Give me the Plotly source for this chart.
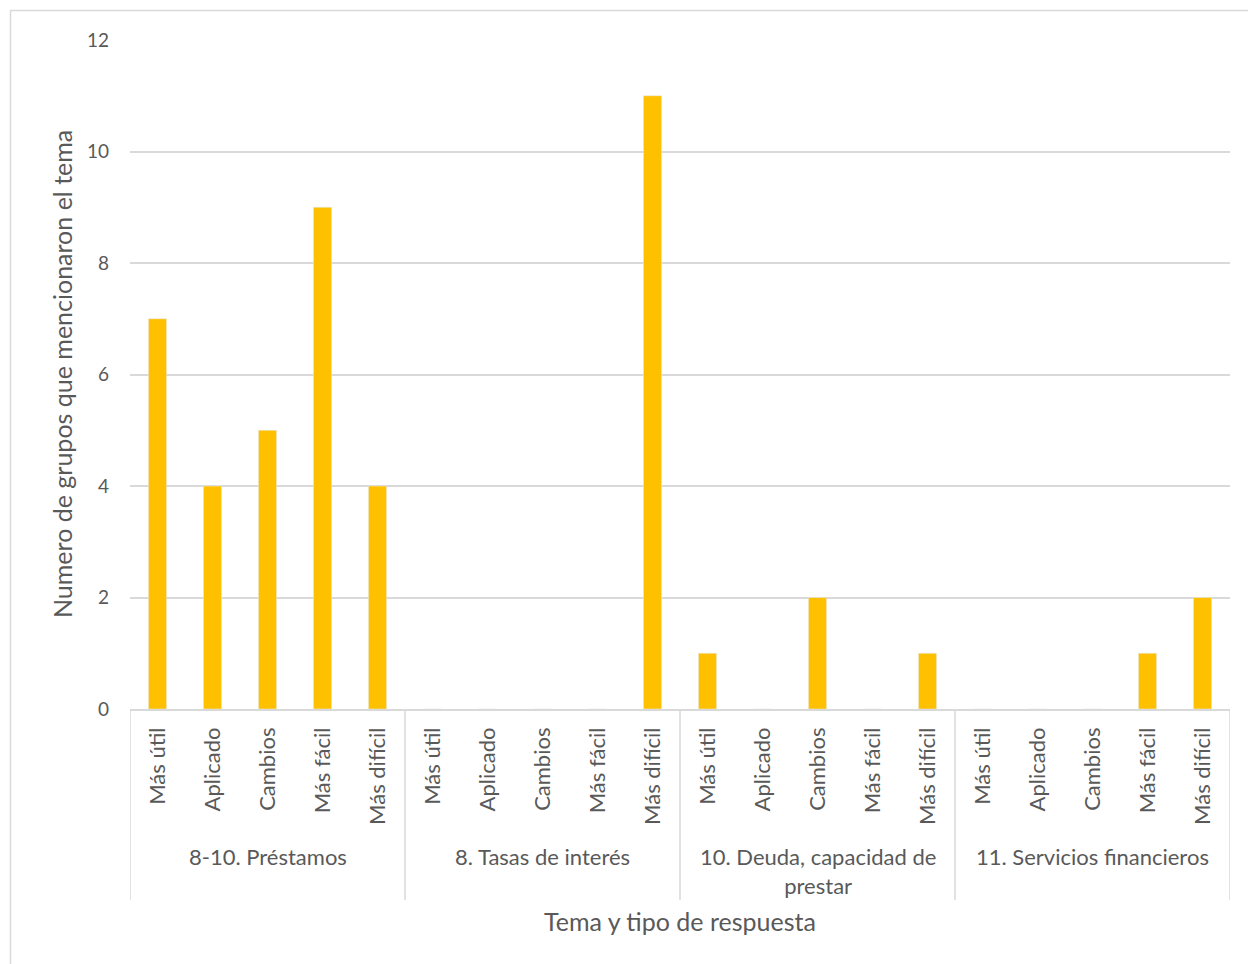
import plotly.graph_objects as go

groups = ["8-10. Préstamos", "8. Tasas de interés", "10. Deuda, capacidad de<br>prestar", "11. Servicios financieros"]
subcats = ["Más útil", "Aplicado", "Cambios", "Más fácil", "Más difícil"]
prestamos = [7, 4, 5, 9, 4]
tasas = [0, 0, 0, 0, 11]
deuda = [1, 0, 2, 0, 1]
servicios = [0, 0, 0, 1, 2]
series = [prestamos, tasas, deuda, servicios]
y_ticks = [0, 2, 4, 6, 8, 10, 12]

W, H = 1248, 964
L, R, T, B = 130, 18, 40, 255
pw, ph = W - L - R, H - T - B

xs, ys, labels = [], [], []
for gi, vals in enumerate(series):
    for si, v in enumerate(vals):
        xs.append(gi * len(subcats) + si)
        ys.append(v)
        labels.append(subcats[si])

font = "Lato, Open Sans, sans-serif"
txt = "#595959"
grid = "#d9d9d9"

fig = go.Figure(go.Bar(x=xs, y=ys, marker_color="#FFC000", width=0.33, hoverinfo="y"))

def ypix_to_paper(py):
    return (H - B - py) / ph

def xpix_to_paper(px):
    return (px - L) / pw

shapes = []
n = len(subcats)
for gi in range(len(groups) + 1):
    xv = gi * n - 0.5
    shapes.append(dict(type="line", xref="x", yref="paper", x0=xv, x1=xv,
                       y0=0, y1=ypix_to_paper(900), line=dict(color=grid, width=1.5)))
shapes.append(dict(type="rect", xref="paper", yref="paper",
                   x0=xpix_to_paper(10.5), x1=xpix_to_paper(1252),
                   y0=ypix_to_paper(968), y1=ypix_to_paper(10.5),
                   line=dict(color=grid, width=1.5), fillcolor="rgba(0,0,0,0)"))

annotations = []
for gi, g in enumerate(groups):
    annotations.append(dict(x=gi * n + (n - 1) / 2, xref="x", y=ypix_to_paper(841), yref="paper",
                            text=g, showarrow=False, yanchor="top", xanchor="center",
                            font=dict(family=font, size=22, color=txt), align="center"))
annotations.append(dict(x=xpix_to_paper(680), xref="paper", y=ypix_to_paper(921), yref="paper",
                        text="Tema y tipo de respuesta", showarrow=False,
                        xanchor="center", yanchor="middle",
                        font=dict(family=font, size=25, color=txt)))
annotations.append(dict(x=xpix_to_paper(62), xref="paper", y=ypix_to_paper(374), yref="paper",
                        text="Numero de grupos que mencionaron el tema", showarrow=False,
                        textangle=-90, xanchor="center", yanchor="middle",
                        font=dict(family=font, size=25, color=txt)))

fig.update_layout(
    width=W, height=H,
    margin=dict(l=L, r=R, t=T, b=B),
    paper_bgcolor="white", plot_bgcolor="white",
    showlegend=False,
    shapes=shapes, annotations=annotations,
    font=dict(family=font, color=txt),
    xaxis=dict(range=[-0.5, len(xs) - 0.5], tickmode="array", tickvals=xs, ticktext=labels,
               tickangle=-90, tickfont=dict(family=font, size=22, color=txt),
               showgrid=False, zeroline=False, showline=True, linecolor=grid, linewidth=1.5,
               ticks="", ticklabelstandoff=8),
    yaxis=dict(range=[0, 12], tickmode="array", tickvals=y_ticks,
               tickfont=dict(family=font, size=19, color=txt),
               showgrid=True, gridcolor=grid, gridwidth=1.5, zeroline=False, showline=False,
               ticks="", ticklabelstandoff=20),
)

fig.write_html("out.html")
